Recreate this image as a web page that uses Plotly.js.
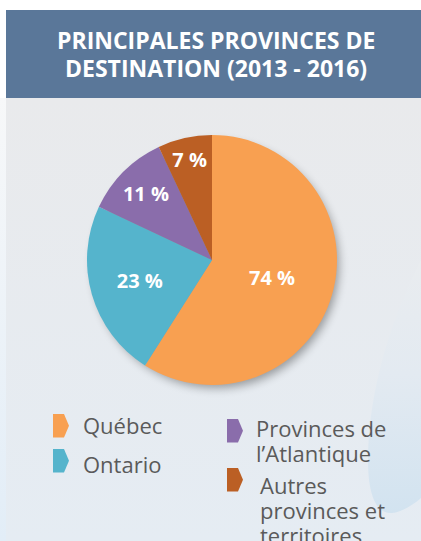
<!DOCTYPE html>
<html>
<head>
<meta charset="utf-8">
<script src="https://cdn.plot.ly/plotly-3.0.1.min.js"></script>
<style>html,body{margin:0;padding:0;background:#fff;}#chart{width:421px;height:541px;}</style>
</head>
<body>
<div id="chart"></div>
<script>
// ---- data ----
var categories = ["Québec", "Ontario", "Provinces de l’Atlantique", "Autres provinces et territoires"];
var sliceValues = [59, 23, 11, 7];           // slice sizes as drawn in the picture
var sliceLabels = ["74 %", "23 %", "11 %", "7 %"]; // labels printed on the slices
var colors = ["#f8a051", "#55b4cc", "#8a6dab", "#bb5f24"];
var legendLines = [["Québec"], ["Ontario"], ["Provinces de", "l’Atlantique"], ["Autres", "provinces et", "territoires"]];
var titleLines = ["PRINCIPALES PROVINCES DE", "DESTINATION (2013 - 2016)"];

var W = 421, H = 541;
function px(x){ return x / W; }
function py(y){ return 1 - y / H; }

// background decoration (svg)
var svg = "<svg xmlns='http://www.w3.org/2000/svg' width='421' height='541' viewBox='0 0 421 541'>" +
 "<defs>" +
 "<linearGradient id='bg' x1='0' y1='0' x2='0' y2='1'><stop offset='0' stop-color='#e9eaec'/><stop offset='1' stop-color='#e5ecf3'/></linearGradient>" +
 "<linearGradient id='ls' x1='0' y1='0' x2='0' y2='1'><stop offset='0' stop-color='#f7f8f9'/><stop offset='1' stop-color='#e2edf7'/></linearGradient>" +
 "<linearGradient id='bl' x1='0' y1='0' x2='0' y2='1'><stop offset='0' stop-color='#e9ecef'/><stop offset='0.45' stop-color='#e3eaf1'/><stop offset='1' stop-color='#d2e3f0'/></linearGradient>" +
 "<filter id='sh' x='-20%' y='-20%' width='140%' height='140%'><feGaussianBlur stdDeviation='5'/></filter>" +
 "</defs>" +
 "<rect width='421' height='541' fill='#ffffff'/>" +
 "<rect x='0' y='98' width='6' height='443' fill='url(#ls)'/>" +
 "<rect x='6' y='98' width='415' height='443' fill='url(#bg)'/>" +
 "<path d='M 421 260 C 400 300 368 380 368 460 C 368 495 376 514 392 513 C 402 512 413 505 421 498 Z' fill='url(#bl)'/>" +
 "<circle cx='216' cy='265' r='123' fill='#000' opacity='0.35' filter='url(#sh)'/>" +
 "<rect x='6' y='10' width='415' height='88' fill='#5a7799'/>" +
 "</svg>";
var bgSrc = "data:image/svg+xml;charset=utf-8," + encodeURIComponent(svg);

var trace = {
  type: "pie",
  labels: categories,
  values: sliceValues,
  text: sliceLabels,
  textinfo: "text",
  textposition: "inside",
  insidetextorientation: "horizontal",
  sort: false,
  direction: "clockwise",
  rotation: 0,
  marker: { colors: colors, line: { width: 0 } },
  textfont: { family: "Open Sans", size: 20, color: "#ffffff", weight: 700 },
  hoverinfo: "label+text",
  domain: { x: [px(87), px(337)], y: [py(385), py(135)] }
};

var shapes = [];
var annotations = [];

// title
var titleBaselines = [49, 77];
titleLines.forEach(function(t, i){
  annotations.push({
    xref: "paper", yref: "paper", x: px(216), y: py(titleBaselines[i] - 9),
    xanchor: "center", yanchor: "middle", showarrow: false, text: "<b>" + t + "</b>",
    font: { family: "Open Sans", size: 23, color: "#ffffff" }
  });
});

// legend
var legendItems = [
  { mx: 53, my: 414, tx: 83, base: [433] },
  { mx: 53, my: 449, tx: 83, base: [472] },
  { mx: 227, my: 419, tx: 256, base: [436, 461] },
  { mx: 227, my: 468, tx: 260, base: [493, 518, 543] }
];
legendItems.forEach(function(it, i){
  var x0 = it.mx, y0 = it.my, w = 16, h = 23.5;
  var pts = [[x0, y0], [x0 + 11, y0], [x0 + w, y0 + h / 2], [x0 + 11, y0 + h], [x0, y0 + h]];
  var d = "M " + pts.map(function(p){ return px(p[0]) + "," + py(p[1]); }).join(" L ") + " Z";
  shapes.push({ type: "path", xref: "paper", yref: "paper", path: d, fillcolor: colors[i], line: { width: 0 }, layer: "above" });
  legendLines[i].forEach(function(line, j){
    annotations.push({
      xref: "paper", yref: "paper", x: px(it.tx - 2), y: py(it.base[j] - 8.5),
      xanchor: "left", yanchor: "middle", showarrow: false, text: line,
      font: { family: "Open Sans", size: 22, color: "#5a5a5a" }
    });
  });
});

var layout = {
  width: W, height: H,
  margin: { l: 0, r: 0, t: 0, b: 0, pad: 0 },
  paper_bgcolor: "#ffffff",
  showlegend: false,
  images: [{ source: bgSrc, xref: "paper", yref: "paper", x: 0, y: 1, sizex: 1, sizey: 1,
             xanchor: "left", yanchor: "top", sizing: "stretch", layer: "below" }],
  shapes: shapes,
  annotations: annotations
};

Plotly.newPlot("chart", [trace], layout, { displayModeBar: false, staticPlot: true });
</script>
</body>
</html>
